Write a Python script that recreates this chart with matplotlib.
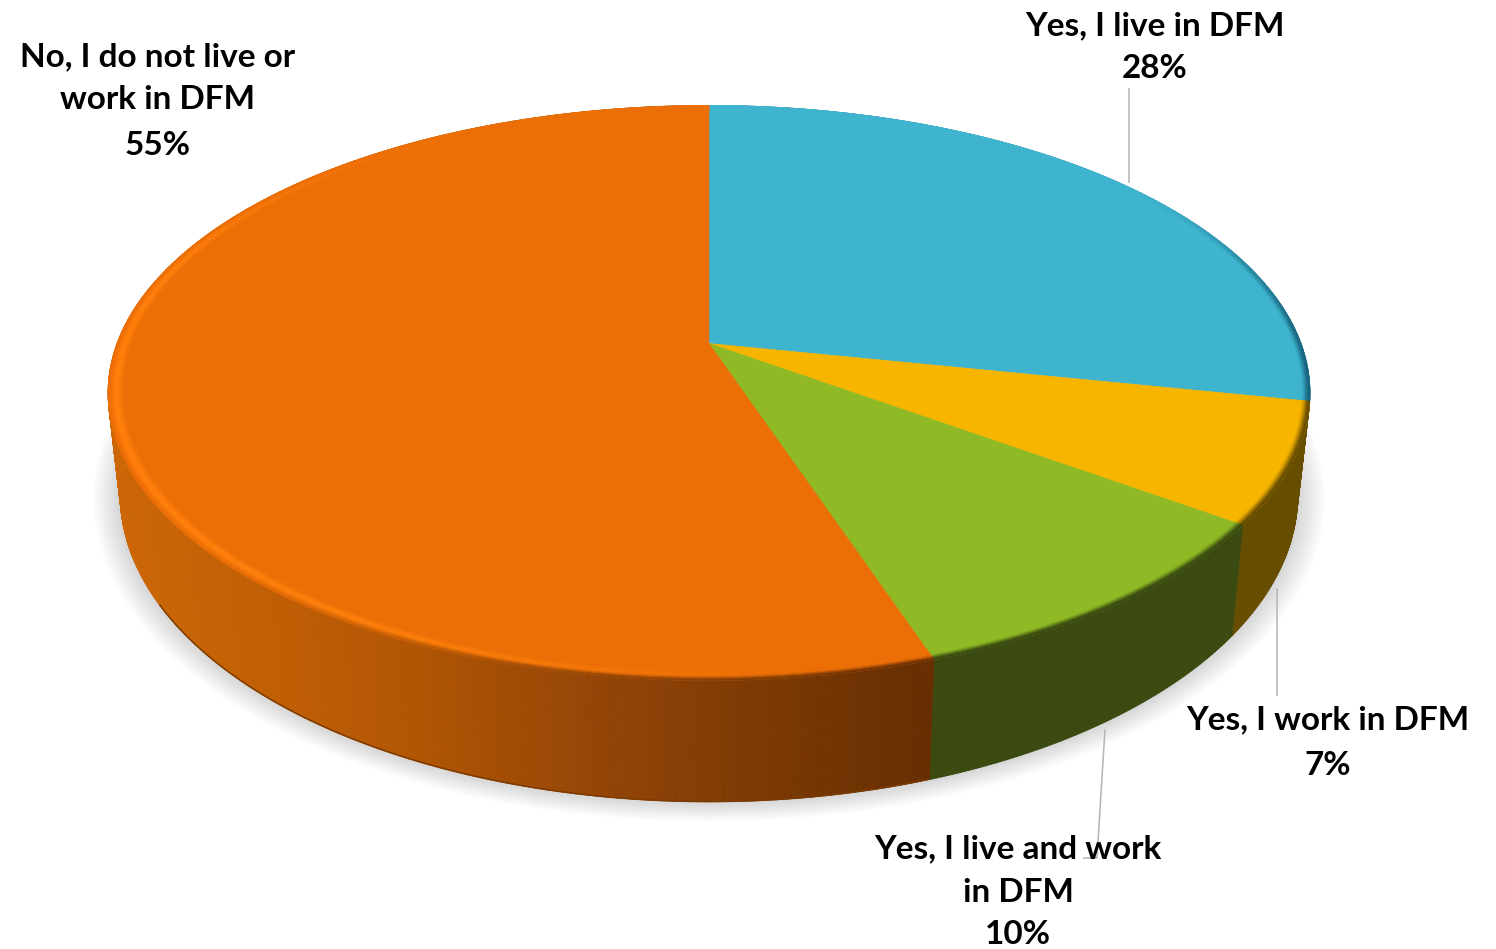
import numpy as np
import matplotlib
matplotlib.use("Agg")
import matplotlib.pyplot as plt
from matplotlib.collections import PolyCollection
from matplotlib.colors import to_rgb
from matplotlib.patches import Polygon

categories = ["Yes, I live in DFM", "Yes, I work in DFM", "Yes, I live and work in DFM", "No, I do not live or work in DFM"]
values = [28.2, 6.75, 9.9, 55.15]
top_colors = ["#3EB4CF", "#F7B500", "#8FBA25", "#EC6E06"]
side_colors = ["#17637C", "#664D00", "#3A4A10", None]
label_lines = [["Yes, I live in DFM", "28%"],
               ["Yes, I work in DFM", "7%"],
               ["Yes, I live and work", "in DFM", "10%"],
               ["No, I do not live or", "work in DFM", "55%"]]
label_x = [1155, 1328, 1018, 158]
label_base = [[35, 78], [729, 775], [858, 902, 944], [66, 109, 155]]

W, H = 1496, 949
CX, K = 709, 0.172
TOP = dict(cy=343.5, a=279, b=592)
BOT = dict(cy=442, a=298, b=580)


def proj(theta, s=1.0, p=TOP):
    t = np.radians(theta)
    X, Y = s * np.sin(t), s * np.cos(t)
    w = 1 + K * Y
    return CX + p["b"] * X / w, p["cy"] - p["a"] * Y / w


def rgb(c):
    return np.array(to_rgb(c))


def orange_side(x):
    xs = [120, 300, 420, 600, 750, 900, 935]
    cs = np.array([rgb(c) for c in ["#CC6606", "#BE5D05", "#B05504", "#934507", "#7E3A04", "#6A3002", "#682E02"]])
    return np.array([np.interp(x, xs, cs[:, i]) for i in range(3)])


fig = plt.figure(figsize=(W / 100, H / 100), dpi=100)
ax = fig.add_axes([0, 0, 1, 1])
ax.set_xlim(0, W)
ax.set_ylim(H, 0)
ax.axis("off")

# angular extents from the data
edges = np.concatenate([[0], np.cumsum(values)]) * 360 / sum(values)
all_t = np.linspace(0, 360, 361)

# soft shadow
for s in np.linspace(1.045, 0.99, 26):
    x, y = proj(all_t, s, BOT)
    ax.add_patch(Polygon(np.c_[x, y], closed=True, fc="k", ec="none", alpha=0.0062, zorder=1))

# side wall
polys, cols = [], []
for i, v in enumerate(values):
    th = np.arange(edges[i], edges[i + 1] + 0.5, 0.5)
    th[-1] = min(th[-1], edges[i + 1])
    for a, b in zip(th[:-1], th[1:]):
        xa, ya = proj(a)
        xb, yb = proj(b)
        xc, yc = proj(b, 1, BOT)
        xd, yd = proj(a, 1, BOT)
        polys.append([(xa, ya), (xb, yb), (xc, yc), (xd, yd)])
        cols.append(orange_side((xa + xb) / 2) if side_colors[i] is None else rgb(side_colors[i]))
ax.add_collection(PolyCollection(polys, facecolors=cols, edgecolors=cols, linewidths=0.6, zorder=2))

# darker foot of the orange wall
th = np.linspace(edges[3], 240, 200)
x, y = proj(th, 1, BOT)
ax.plot(x, y - 0.5, color="#7A3A00", lw=1.0, zorder=3, solid_capstyle="butt")

# top faces
for i, v in enumerate(values):
    th = np.linspace(edges[i], edges[i + 1], 200)
    x, y = proj(th)
    pts = np.r_[[[CX, TOP["cy"]]], np.c_[x, y]]
    ax.add_patch(Polygon(pts, closed=True, fc=top_colors[i], ec=top_colors[i], lw=0.4, zorder=4))

# bevel along the rim
def smooth(a, b, v):
    t = np.clip((v - a) / (b - a), 0, 1)
    return t * t * (3 - 2 * t)


polys, cols = [], []
BRIGHT = rgb("#FF800C")
for i, v in enumerate(values):
    base = rgb(top_colors[i])
    th = np.arange(edges[i], edges[i + 1] + 1.0, 1.0)
    th[-1] = min(th[-1], edges[i + 1])
    s_in = 0.972 if side_colors[i] is None else 0.984
    ss = np.linspace(s_in, 1.0, 13)
    for a, b in zip(th[:-1], th[1:]):
        m = (a + b) / 2
        for k in range(len(ss) - 1):
            t = (k + 0.5) / (len(ss) - 1)
            xa, ya = proj(a, ss[k])
            xb, yb = proj(b, ss[k])
            xc, yc = proj(b, ss[k + 1])
            xd, yd = proj(a, ss[k + 1])
            if side_colors[i] is None:
                h = smooth(165, 215, m) * (1 - smooth(280, 335, m))
                edge_mix = 1 - smooth(190, 235, m)
                peak = base + (BRIGHT - base) * h
                edge = base * (1 - edge_mix) + orange_side((xa + xb) / 2) * edge_mix
                if t < 0.55:
                    c = base + (peak - base) * smooth(0, 0.55, t)
                else:
                    c = peak + (edge - peak) * smooth(0.55, 1.0, t)
            else:
                strength = smooth(50, 95, m) if i == 0 else 1.0
                c = base + (rgb(side_colors[i]) - base) * smooth(0.1, 1.0, t) * strength
            polys.append([(xa, ya), (xb, yb), (xc, yc), (xd, yd)])
            cols.append(np.clip(c, 0, 1))
ax.add_collection(PolyCollection(polys, facecolors=cols, edgecolors=cols, linewidths=0.5, zorder=5))

# leader lines
leaders = [([1129, 1129], [88, 183]),
           ([1277, 1277], [588, 696]),
           ([1105, 1097, 1083], [729, 858, 858])]
for lx, ly in leaders:
    ax.plot(lx, ly, color="#B4B4B4", lw=1.1, zorder=6, solid_capstyle="butt")

# labels
for lines, lx, bases in zip(label_lines, label_x, label_base):
    for line, by in zip(lines, bases):
        ax.text(lx, by, line, ha="center", va="baseline", fontsize=24, fontweight="bold",
                family="Lato", color="#000000", zorder=7)

fig.savefig("out.png", dpi=100, facecolor="white")
